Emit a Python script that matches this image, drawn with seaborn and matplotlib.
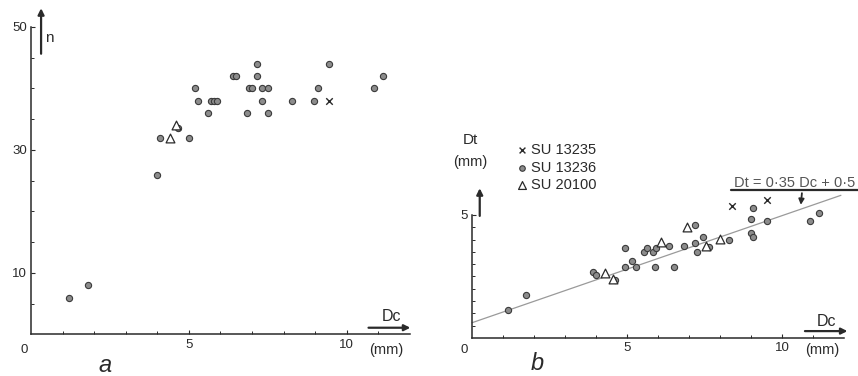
import matplotlib
matplotlib.use("Agg")
import matplotlib.pyplot as plt
import seaborn as sns
import pandas as pd
import numpy as np

# ---------------- data ----------------
# panel a : n vs Dc
a_circ_x = [1.2, 1.8, 4.0, 4.1, 5.0, 5.2, 5.3, 5.6, 5.7, 5.8, 5.9, 6.4, 6.5,
            7.15, 7.15, 6.9, 7.0, 7.3, 7.5, 7.3, 6.85, 7.5, 8.25, 8.95, 9.1,
            9.45, 10.85, 11.15, 4.65]
a_circ_y = [6, 8, 26, 32, 32, 40, 38, 36, 38, 38, 38, 42, 42,
            44, 42, 40, 40, 40, 40, 38, 36, 36, 38, 38, 40,
            44, 40, 42, 33.6]
a_tri_x = [4.4, 4.6]
a_tri_y = [32, 34]
a_x_x = [9.45]
a_x_y = [38]

# panel b : Dt vs Dc
b_circ_x = [1.15, 1.75, 3.9, 4.0, 4.6, 4.95, 4.95, 5.15, 5.3, 5.55, 5.65, 5.85,
            5.95, 6.35, 5.9, 6.5, 6.85, 7.2, 7.2, 7.25, 7.45, 7.65, 8.3, 9.0,
            9.05, 9.0, 9.05, 9.5, 10.9, 11.2]
b_circ_y = [1.15, 1.75, 2.7, 2.55, 2.35, 3.65, 2.9, 3.15, 2.9, 3.5, 3.65, 3.5,
            3.65, 3.75, 2.9, 2.9, 3.72, 4.6, 3.85, 3.5, 4.1, 3.7, 4.0, 4.85,
            5.27, 4.25, 4.1, 4.75, 4.75, 5.1]
b_tri_x = [4.3, 4.55, 6.1, 6.95, 7.55, 8.0]
b_tri_y = [2.65, 2.4, 3.9, 4.5, 3.72, 4.02]
b_x_x = [8.4, 9.5]
b_x_y = [5.35, 5.6]

fit_x = [0.0, 11.9]
fit_y = [0.62, 5.8]

legend_labels = ["SU 13235", "SU 13236", "SU 20100"]
equation = "Dt = 0·35 Dc + 0·5"

# ---------------- style ----------------
sns.set_theme(style="white")
plt.rcParams["font.family"] = ["Liberation Sans", "DejaVu Sans"]
INK = "#2a2a2a"
plt.rcParams["text.color"] = INK
plt.rcParams["axes.edgecolor"] = INK
plt.rcParams["xtick.color"] = INK
plt.rcParams["ytick.color"] = INK

fig = plt.figure(figsize=(8.58, 3.76), dpi=100)
axa = fig.add_axes([0.0361, 0.1104, 0.4417, 0.8178])
axb = fig.add_axes([0.5501, 0.1011, 0.4336, 0.3271])

circ_kw = dict(marker="o", s=20, color="#8c8c8c", edgecolor="#3a3a3a",
               linewidth=0.8, clip_on=False, zorder=3)
tri_kw = dict(marker="^", s=40, facecolor="white", edgecolor="#2a2a2a",
              linewidth=0.9, clip_on=False, zorder=4)
x_kw = dict(marker="x", s=22, color="#2a2a2a", linewidth=1.0,
            clip_on=False, zorder=4)


def style_axes(ax, ymax, ymajor, yminor):
    ax.set_xlim(0, 12)
    ax.set_ylim(0, ymax)
    for s in ["top", "right"]:
        ax.spines[s].set_visible(False)
    for s in ["left", "bottom"]:
        ax.spines[s].set_linewidth(1.1)
    ax.set_xticks([5, 10])
    ax.set_xticklabels(["5", "10"])
    ax.set_xticks(np.arange(1, 12), minor=True)
    ax.set_yticks(ymajor)
    ax.set_yticklabels([str(v) for v in ymajor])
    ax.set_yticks(yminor, minor=True)
    ax.tick_params(axis="both", which="major", direction="in", length=3,
                   width=0.8, labelsize=9.5, pad=3)
    ax.tick_params(axis="both", which="minor", direction="in", length=2,
                   width=0.7)
    ax.tick_params(axis="x", which="both", bottom=True)
    ax.tick_params(axis="y", which="both", left=True)
    ax.set_xlabel("")
    ax.set_ylabel("")
    ax.patch.set_alpha(0)


# ---------------- panel a ----------------
sns.scatterplot(x=a_circ_x, y=a_circ_y, ax=axa, **circ_kw)
sns.scatterplot(x=a_tri_x, y=a_tri_y, ax=axa, **tri_kw)
sns.scatterplot(x=a_x_x, y=a_x_y, ax=axa, **x_kw)
style_axes(axa, 50, [10, 30, 50], np.arange(5, 50, 5))

axa.annotate("", xy=(0.32, 53.5), xytext=(0.32, 45.2),
             arrowprops=dict(arrowstyle="-|>", color=INK, lw=1.6,
                             mutation_scale=9), annotation_clip=False)
axa.text(0.45, 48.2, "n", fontsize=11, ha="left", va="center")
axa.annotate("", xy=(12.1, 1.1), xytext=(10.6, 1.1),
             arrowprops=dict(arrowstyle="-|>", color=INK, lw=1.6,
                             mutation_scale=9), annotation_clip=False)
axa.text(11.4, 2.9, "Dc", fontsize=11.5, ha="center", va="center")
axa.text(11.25, -2.6, "(mm)", fontsize=10.5, ha="center", va="center")
axa.text(-0.2, -2.6, "0", fontsize=9.5, ha="center", va="center")
axa.text(2.35, -5.0, "a", fontsize=17, style="italic", ha="center",
         va="center")

# ---------------- panel b ----------------
sns.lineplot(x=fit_x, y=fit_y, ax=axb, color="#9a9a9a", linewidth=0.9,
             zorder=2, clip_on=False)
sns.scatterplot(x=b_circ_x, y=b_circ_y, ax=axb, **circ_kw)
sns.scatterplot(x=b_tri_x, y=b_tri_y, ax=axb, **tri_kw)
sns.scatterplot(x=b_x_x, y=b_x_y, ax=axb, **x_kw)
style_axes(axb, 5, [5], np.arange(0.5, 5, 0.5))

# legend drawn by hand as in the original
leg_y = [7.64, 6.91, 6.22]
for lab, yy, kw in zip(legend_labels, leg_y, [x_kw, circ_kw, tri_kw]):
    k = dict(kw)
    k["s"] = k["s"] * 0.8
    sns.scatterplot(x=[1.62], y=[yy], ax=axb, **k)
    axb.text(1.9, yy, lab, fontsize=10.5, ha="left", va="center")

axb.text(-0.05, 8.05, "Dt", fontsize=11, ha="center", va="center")
axb.text(-0.05, 7.15, "(mm)", fontsize=10.5, ha="center", va="center")
axb.annotate("", xy=(0.25, 6.2), xytext=(0.25, 4.85),
             arrowprops=dict(arrowstyle="-|>", color=INK, lw=1.6,
                             mutation_scale=9), annotation_clip=False)

axb.text(8.45, 6.3, equation, fontsize=10.5, color="#555555", ha="left",
         va="center")
axb.plot([8.35, 12.45], [6.0, 6.0], color=INK, lw=1.6, clip_on=False)
axb.annotate("", xy=(10.6, 5.3), xytext=(10.65, 6.0),
             arrowprops=dict(arrowstyle="-|>", color=INK, lw=1.3,
                             mutation_scale=8), annotation_clip=False)

axb.annotate("", xy=(12.2, 0.28), xytext=(10.65, 0.28),
             arrowprops=dict(arrowstyle="-|>", color=INK, lw=1.6,
                             mutation_scale=9), annotation_clip=False)
axb.text(11.45, 0.65, "Dc", fontsize=11.5, ha="center", va="center")
axb.text(11.3, -0.5, "(mm)", fontsize=10.5, ha="center", va="center")
axb.text(-0.25, -0.5, "0", fontsize=9.5, ha="center", va="center")
axb.text(2.1, -1.05, "b", fontsize=17, style="italic", ha="center",
         va="center")

fig.savefig("out.png", dpi=100, facecolor="white")
